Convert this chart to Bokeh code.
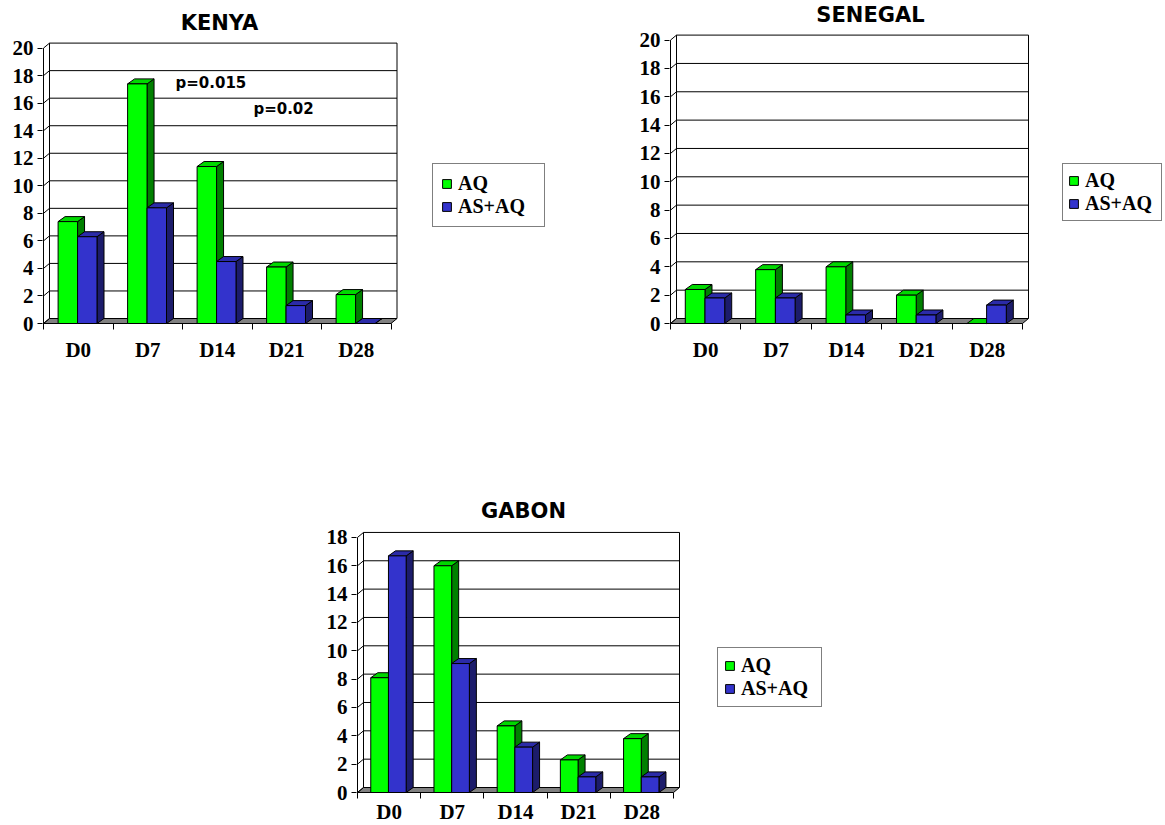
from bokeh.plotting import figure
from bokeh.models import Range1d, FixedTicker, Legend, LegendItem, Label, Spacer
from bokeh.layouts import column, row
from bokeh.embed import file_html
from bokeh.resources import INLINE

# ---- data -------------------------------------------------------------
categories = ["D0", "D7", "D14", "D21", "D28"]
series_names = ["AQ", "AS+AQ"]

kenya_aq = [7.4, 17.4, 11.4, 4.1, 2.1]
kenya_as_aq = [6.3, 8.4, 4.5, 1.3, 0.0]

senegal_aq = [2.4, 3.8, 4.0, 2.0, 0.0]
senegal_as_aq = [1.8, 1.8, 0.6, 0.6, 1.3]

gabon_aq = [8.1, 16.0, 4.7, 2.3, 3.8]
gabon_as_aq = [16.7, 9.1, 3.2, 1.1, 1.1]

kenya_ticks = [0, 2, 4, 6, 8, 10, 12, 14, 16, 18, 20]
senegal_ticks = [0, 2, 4, 6, 8, 10, 12, 14, 16, 18, 20]
gabon_ticks = [0, 2, 4, 6, 8, 10, 12, 14, 16, 18]

kenya_notes = ["p=0.015", "p=0.02"]

# ---- styling ----------------------------------------------------------
SERIES_COLORS = [
    dict(front="#00FF00", top="#00D800", side="#008000"),
    dict(front="#3333CC", top="#2B2BA8", side="#1C1C6B"),
]
WALL_DX, WALL_DY = 6, 5      # pixel depth of the back wall
BAR_DX, BAR_DY = 7, 5        # pixel depth of each column
BAR_W = 0.28                 # column width in category units
GROUP_START = 0.21           # offset of the first column inside a category
SERIF = "Liberation Serif"
SANS = "DejaVu Sans"


def bar_chart(title, series, ticks, geo, legend_box, title_centre, notes=(), legend_pad=8):
    n = len(categories)
    ymax = ticks[-1]
    cat_px, unit_px = geo["cat_px"], geo["unit_px"]
    pad = 1
    # the frame fills everything right of the value axis, so the legend,
    # the title and the pinned category axis all sit inside it
    mb_left = geo["axis_x"] - geo["fig_left"] - pad
    frame_w = geo["width"] - mb_left
    frame_h = geo["height"]
    below_zero = geo["fig_top"] + geo["height"] - geo["zero_y"]

    x0 = -pad / cat_px
    y0 = -below_zero / unit_px
    p = figure(
        width=geo["width"], height=geo["height"],
        x_range=Range1d(x0, x0 + frame_w / cat_px),
        y_range=Range1d(y0, y0 + frame_h / unit_px),
        min_border_left=mb_left, min_border_right=0,
        min_border_top=0, min_border_bottom=0,
        output_backend="svg", toolbar_location=None,
    )
    p.outline_line_color = None
    p.grid.visible = False
    p.background_fill_color = "white"
    p.border_fill_color = "white"

    def to_data(ax, ay):
        return (ax - geo["axis_x"]) / cat_px, (geo["zero_y"] - ay) / unit_px

    # chart title
    tx, ty = to_data(*title_centre)
    p.add_layout(Label(x=tx, y=ty, text=title, text_font=SANS, text_font_style="bold",
                       text_font_size="21px", text_align="center", text_baseline="middle",
                       text_color="black"))

    dxw, dyw = WALL_DX / cat_px, WALL_DY / unit_px
    dxb, dyb = BAR_DX / cat_px, BAR_DY / unit_px

    # floor
    p.patch([0, n, n + dxw, dxw], [0, 0, dyw, dyw],
            fill_color="#808080", line_color="black", line_width=1)

    # side-wall diagonals and back-wall gridlines
    p.segment(x0=[0] * len(ticks), y0=ticks,
              x1=[dxw] * len(ticks), y1=[t + dyw for t in ticks],
              line_color="black", line_width=1)
    upper = ticks[1:]
    p.segment(x0=[dxw] * len(upper), y0=[t + dyw for t in upper],
              x1=[n + dxw] * len(upper), y1=[t + dyw for t in upper],
              line_color="black", line_width=1)
    # wall edges and front value axis
    p.segment(x0=[dxw, n + dxw, 0], y0=[dyw, dyw, 0],
              x1=[dxw, n + dxw, 0], y1=[ymax + dyw, ymax + dyw, ymax],
              line_color="black", line_width=1)

    # 3-D columns
    fronts = []
    for k, values in enumerate(series):
        col = SERIES_COLORS[k]
        lefts = [i + GROUP_START + k * BAR_W for i in range(n)]
        rights = [l + BAR_W for l in lefts]
        side_xs = [[r, r + dxb, r + dxb, r] for r in rights]
        side_ys = [[0, dyb, v + dyb, v] for v in values]
        top_xs = [[l, l + dxb, r + dxb, r] for l, r in zip(lefts, rights)]
        top_ys = [[v, v + dyb, v + dyb, v] for v in values]
        p.patches(side_xs, side_ys, fill_color=col["side"], line_color="black", line_width=1)
        p.patches(top_xs, top_ys, fill_color=col["top"], line_color="black", line_width=1)
        fronts.append(p.quad(left=lefts, right=rights, bottom=0, top=values,
                             fill_color=col["front"], line_color="black", line_width=1))

    # value axis
    yax = p.yaxis[0]
    yax.ticker = FixedTicker(ticks=ticks, minor_ticks=[])
    yax.axis_line_color = None
    yax.major_tick_out = 5
    yax.major_tick_in = 0
    yax.major_tick_line_color = "black"
    yax.major_label_standoff = 4
    yax.major_label_text_font = SERIF
    yax.major_label_text_font_style = "bold"
    yax.major_label_text_font_size = "21px"
    yax.major_label_text_color = "black"

    # category axis pinned to the floor's front edge: ticks on boundaries,
    # labels on centres
    xax = p.xaxis[0]
    centres = [i + 0.5 for i in range(n)]
    xax.fixed_location = 0
    xax.ticker = FixedTicker(ticks=centres, minor_ticks=list(range(n + 1)))
    xax.major_label_overrides = {c: lab for c, lab in zip(centres, categories)}
    xax.axis_line_color = None
    xax.major_tick_out = 0
    xax.major_tick_in = 0
    xax.minor_tick_out = 6
    xax.minor_tick_in = 0
    xax.minor_tick_line_color = "black"
    xax.major_label_standoff = geo["xlabel_standoff"]
    xax.major_label_text_font = SERIF
    xax.major_label_text_font_style = "bold"
    xax.major_label_text_font_size = "21px"
    xax.major_label_text_color = "black"

    # legend, positioned from the frame's bottom-left corner
    bl, bt, bw, bh = legend_box
    frame_left_abs = geo["axis_x"] - pad
    frame_bottom_abs = geo["fig_top"] + geo["height"]
    legend = Legend(
        items=[LegendItem(label=name, renderers=[r]) for name, r in zip(series_names, fronts)],
        location=(bl - frame_left_abs, frame_bottom_abs - (bt + bh)),
        orientation="vertical",
        border_line_color="black", border_line_width=1.5,
        background_fill_color="white", background_fill_alpha=1.0,
        label_text_font=SERIF, label_text_font_style="bold",
        label_text_font_size="20px", label_text_color="black",
        glyph_width=11, glyph_height=11,
        label_height=22, label_standoff=6,
        label_width=bw - 2 * legend_pad - 11 - 6,
        padding=legend_pad, spacing=0, margin=0,
    )
    p.add_layout(legend)

    for text, (nx, ny) in notes:
        p.add_layout(Label(x=nx, y=ny, text=text, text_font=SANS, text_font_style="bold",
                           text_font_size="15px", text_baseline="middle", text_color="black"))
    return p


kenya = bar_chart(
    "KENYA", [kenya_aq, kenya_as_aq], kenya_ticks,
    dict(fig_left=0, fig_top=0, width=600, height=380, axis_x=43, zero_y=323,
         cat_px=69.5, unit_px=13.77, xlabel_standoff=8),
    legend_box=(432, 165, 111, 62), title_centre=(219, 22),
    notes=[(kenya_notes[0], (1.90, 17.5)), (kenya_notes[1], (3.02, 15.55))],
    legend_pad=8,
)
senegal = bar_chart(
    "SENEGAL", [senegal_aq, senegal_as_aq], senegal_ticks,
    dict(fig_left=600, fig_top=0, width=565, height=380, axis_x=670, zero_y=323,
         cat_px=70.4, unit_px=14.17, xlabel_standoff=8),
    legend_box=(1062, 163, 98, 58), title_centre=(870, 14),
    legend_pad=5,
)
gabon = bar_chart(
    "GABON", [gabon_aq, gabon_as_aq], gabon_ticks,
    dict(fig_left=300, fig_top=380, width=865, height=445, axis_x=357, zero_y=792,
         cat_px=63.2, unit_px=14.17, xlabel_standoff=1),
    legend_box=(717, 647, 103, 60), title_centre=(523, 510),
    legend_pad=6,
)

page = column(row(kenya, senegal), row(Spacer(width=300, height=445), gabon))
open("out.html", "w").write(file_html(page, INLINE))
